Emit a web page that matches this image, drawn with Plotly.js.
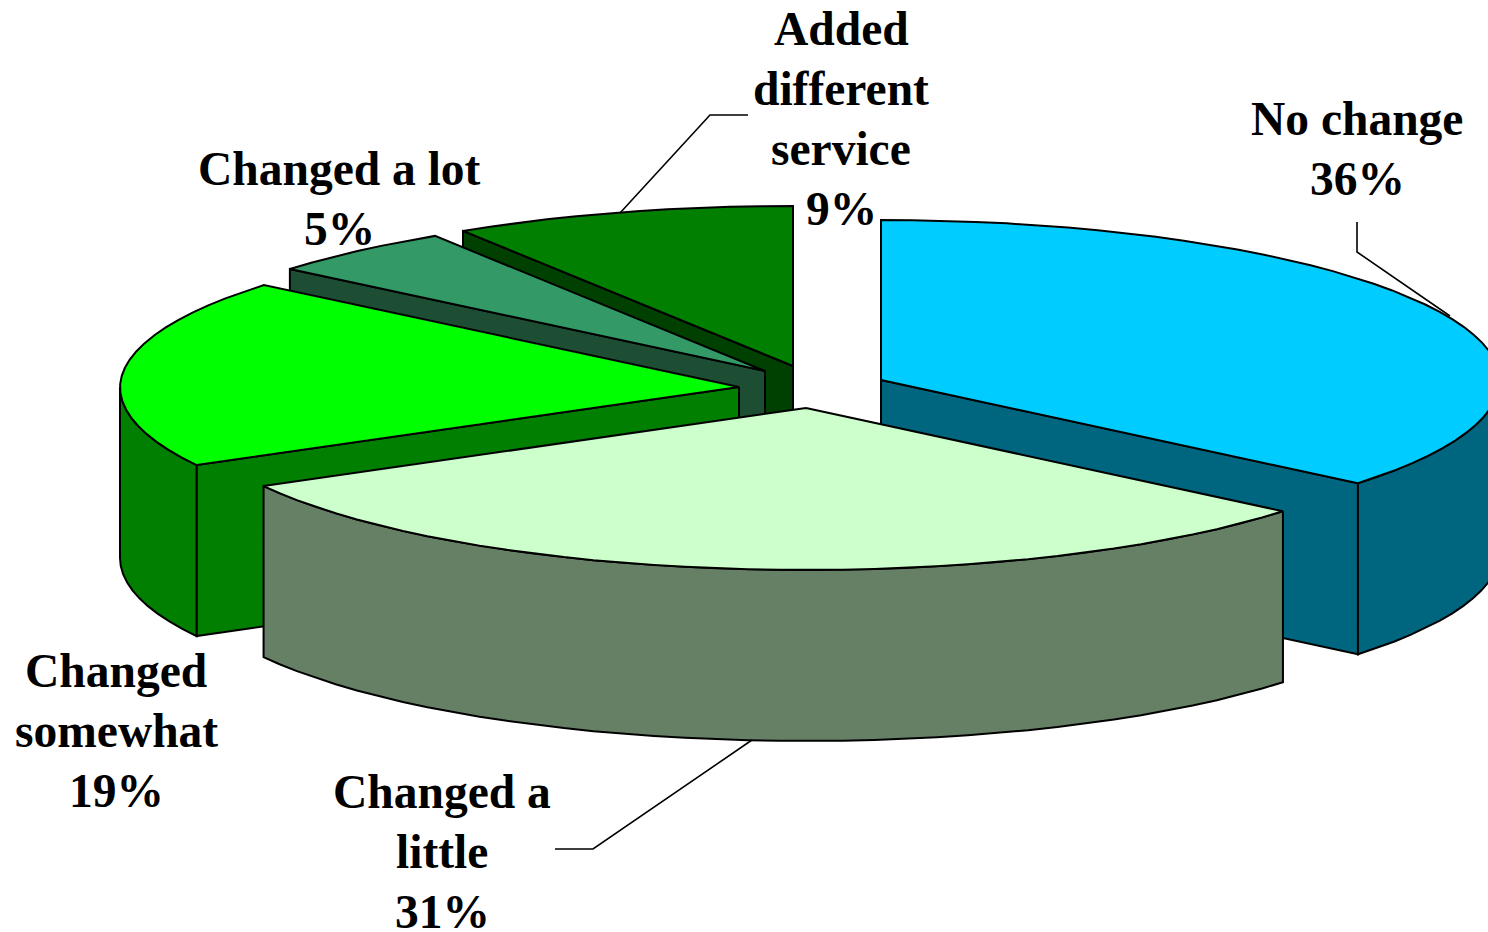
<!DOCTYPE html>
<html>
<head>
<meta charset="utf-8">
<script src="https://cdn.plot.ly/plotly-3.0.1.min.js"></script>
<style>html,body{margin:0;padding:0;background:#fff;overflow:hidden}#chart{width:1488px;height:932px}</style>
</head>
<body>
<div id="chart"></div>
<script>
// Data, in pie order (clockwise from 12 o'clock)
const categories = ['No change', 'Changed a little', 'Changed somewhat', 'Changed a lot', 'Added different service'];
const percents = [36, 31, 19, 5, 9];
const labelLines = [['No change'], ['Changed a', 'little'], ['Changed', 'somewhat'], ['Changed a lot'], ['Added', 'different', 'service']];

// Styles
const topColors = ['#00CCFF', '#CCFFCC', '#00FF00', '#339966', '#007F00'];
const sideColors = ['#006680', '#668066', '#007F00', '#1D4D33', '#004000'];

// Layout of the exploded 3-D pie
const apexX = [881, 806, 739, 765, 793];
const apexY = [380, 408, 387, 371, 366];
const radiusX = 619, radiusYBack = 160, radiusYFront = 162, depth = 171, backNarrowing = 0.006;
const labelX = [1357, 442, 116, 339, 841];
const labelFirstY = [119, 792, 671, 169, 29];
const lineStep = 60;
const leaders = [
  {x: [1357, 1357, 1450], y: [222, 252, 316]},
  {x: [555, 593, 752], y: [849, 849, 740]},
  {x: [748, 710, 620], y: [115, 115, 213]}
];
const drawOrder = [4, 3, 2, 0, 1];

const rad = d => d * Math.PI / 180;
const px = (i, a) => {
  const c = Math.cos(rad(a));
  return apexX[i] + radiusX * (1 - backNarrowing * Math.max(c, 0)) * Math.sin(rad(a));
};
const py = (i, a) => {
  const c = Math.cos(rad(a));
  return apexY[i] - (c > 0 ? radiusYBack : radiusYFront) * c;
};

function arc(i, a0, a1, dy) {
  const n = Math.max(1, Math.ceil(Math.abs(a1 - a0) / 3));
  const xs = [], ys = [];
  for (let k = 0; k <= n; k++) {
    const a = a0 + (a1 - a0) * k / n;
    xs.push(px(i, a));
    ys.push(py(i, a) + dy);
  }
  return {x: xs, y: ys};
}
function poly(x, y, color) {
  return {type: 'scatter', mode: 'lines', x: x.concat(x[0]), y: y.concat(y[0]),
    fill: 'toself', fillcolor: color, line: {color: '#000', width: 2},
    hoverinfo: 'skip', showlegend: false};
}
function cutFace(i, a, color) {
  return poly([apexX[i], px(i, a), px(i, a), apexX[i]],
              [apexY[i], py(i, a), py(i, a) + depth, apexY[i] + depth], color);
}

const total = percents.reduce((s, v) => s + v, 0);
const starts = [];
percents.reduce((s, v, i) => { starts[i] = s; return s + v / total * 360; }, 0);

const traces = [];
drawOrder.forEach(i => {
  const s = starts[i], e = s + percents[i] / total * 360;
  if (Math.sin(rad(s)) < -1e-6) traces.push(cutFace(i, s, sideColors[i]));
  if (Math.sin(rad(e)) > 1e-6) traces.push(cutFace(i, e, sideColors[i]));
  const r0 = Math.max(s, 90), r1 = Math.min(e, 270);
  if (r1 > r0) {
    const up = arc(i, r0, r1, 0), down = arc(i, r1, r0, depth);
    traces.push(poly(up.x.concat(down.x), up.y.concat(down.y), sideColors[i]));
  }
  const t = arc(i, s, e, 0);
  traces.push(poly([apexX[i]].concat(t.x), [apexY[i]].concat(t.y), topColors[i]));
});
leaders.forEach(l => traces.push({type: 'scatter', mode: 'lines', x: l.x, y: l.y,
  line: {color: '#000', width: 1.6}, hoverinfo: 'skip', showlegend: false}));

const annotations = [];
categories.forEach((c, i) => {
  labelLines[i].concat(percents[i] + '%').forEach((line, k) => {
    annotations.push({
      x: labelX[i], y: labelFirstY[i] + k * lineStep, xref: 'x', yref: 'y',
      xanchor: 'center', yanchor: 'middle', showarrow: false, align: 'center', text: line,
      font: {family: '"Liberation Serif", serif', size: 47.5, color: '#000', weight: 700}
    });
  });
});

const hidden = {visible: false, fixedrange: true};
Plotly.newPlot('chart', traces, {
  width: 1488, height: 932, margin: {l: 0, r: 0, t: 0, b: 0},
  paper_bgcolor: '#fff', plot_bgcolor: '#fff', showlegend: false,
  xaxis: Object.assign({range: [0, 1488]}, hidden),
  yaxis: Object.assign({range: [932, 0]}, hidden),
  annotations: annotations
}, {displayModeBar: false, staticPlot: true});
</script>
</body>
</html>
